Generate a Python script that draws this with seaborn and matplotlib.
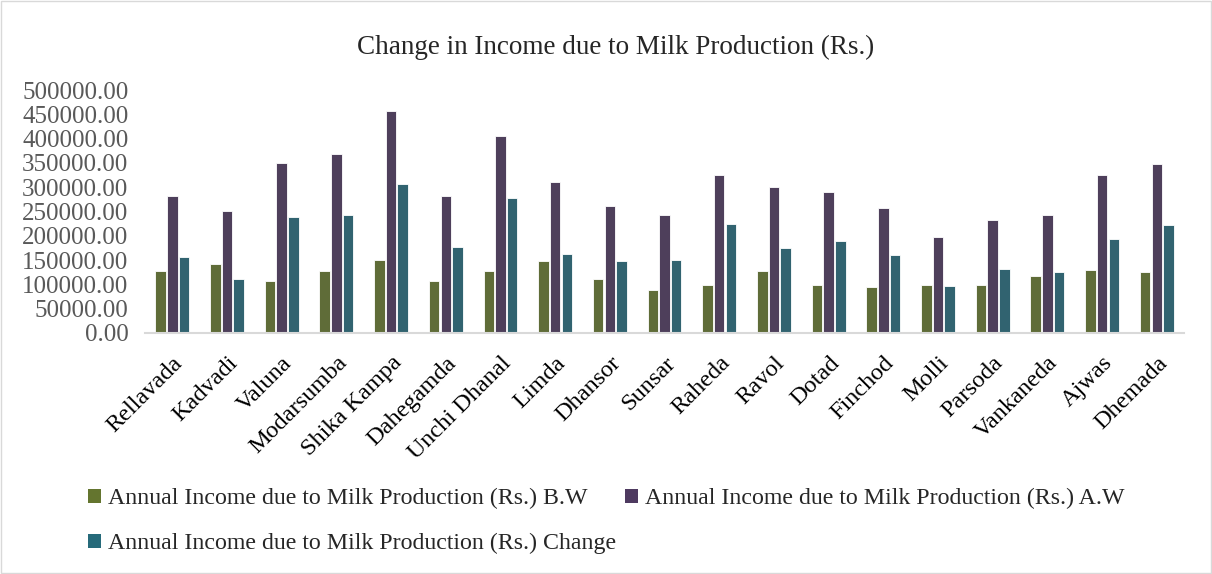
import matplotlib
matplotlib.use("Agg")
import matplotlib.pyplot as plt
import seaborn as sns
import pandas as pd
from matplotlib.patches import Patch

villages = ["Rellavada", "Kadvadi", "Valuna", "Modarsumba", "Shika Kampa", "Dahegamda",
            "Unchi Dhanal", "Limda", "Dhansor", "Sunsar", "Raheda", "Ravol", "Dotad",
            "Finchod", "Molli", "Parsoda", "Vankaneda", "Ajwas", "Dhemada"]
income_bw = [126600, 141000, 108000, 126600, 150600, 106000, 126600, 148000, 112000, 89400,
             99000, 126600, 99000, 95000, 99000, 99000, 117600, 129000, 126000]
income_aw = [283000, 252000, 349000, 369000, 456700, 283000, 406500, 311600, 261000, 242800,
             324700, 301000, 290000, 258000, 196700, 232000, 242800, 324700, 347000]
income_change = [157000, 111000, 239000, 243500, 306000, 178000, 278600, 163000, 148000, 151000,
                 224000, 174000, 190000, 161000, 96000, 132000, 126000, 194000, 221500]
series_names = ["Annual Income due to Milk Production (Rs.) B.W",
                "Annual Income due to Milk Production (Rs.) A.W",
                "Annual Income due to Milk Production (Rs.) Change"]
colors = ["#64752F", "#4E3A60", "#266A7A"]

rows = []
for name, vals in zip(series_names, [income_bw, income_aw, income_change]):
    for v, val in zip(villages, vals):
        rows.append({"Village": v, "Series": name, "Value": val})
df = pd.DataFrame(rows)

sns.set_theme(style="white")
plt.rcParams["font.family"] = ["Liberation Serif", "DejaVu Serif"]

fig = plt.figure(figsize=(12.12, 5.74), dpi=100)
ax = fig.add_axes([0.1196, 0.4199, 0.8574, 0.4231])
sns.barplot(data=df, x="Village", y="Value", hue="Series", palette=colors,
            width=0.64, gap=0.1, edgecolor="white", linewidth=0.6,
            ax=ax, legend=False, errorbar=None)

ax.set_ylim(0, 500000)
ax.set_yticks(range(0, 500001, 50000))
ax.set_yticklabels([f"{t:.2f}" for t in range(0, 500001, 50000)], fontsize=18, color="#595959")
ax.set_xlim(-0.5, len(villages) - 0.5)
ax.set_xticks(range(len(villages)))
ax.set_xticklabels(villages, rotation=45, ha="right", rotation_mode="anchor", fontsize=17.5, color="black")
ax.tick_params(axis="y", length=0, pad=12)
ax.tick_params(axis="x", length=0, pad=14)
ax.set_xlabel("")
ax.set_ylabel("")
for s in ["top", "right", "left"]:
    ax.spines[s].set_visible(False)
ax.spines["bottom"].set_color("#d9d9d9")
ax.spines["bottom"].set_linewidth(1.5)

fig.text(0.508, 0.918, "Change in Income due to Milk Production (Rs.)", ha="center", va="center",
         fontsize=19.5, color="#262626")

order = [0, 2, 1]
handles = [Patch(facecolor=colors[i], edgecolor="none") for i in order]
labels = [series_names[i] for i in order]
fig.legend(handles, labels, loc="upper left", bbox_to_anchor=(0.055, 0.187),
           ncol=2, frameon=False, fontsize=17.2, handlelength=0.55, handleheight=0.55,
           handletextpad=0.3, columnspacing=0.35, labelspacing=1.0)

fig.patches.append(plt.Rectangle((0.001, 0.001), 0.998, 0.998, transform=fig.transFigure,
                                 fill=False, edgecolor="#d9d9d9", linewidth=1))
fig.savefig("out.png", dpi=100)
